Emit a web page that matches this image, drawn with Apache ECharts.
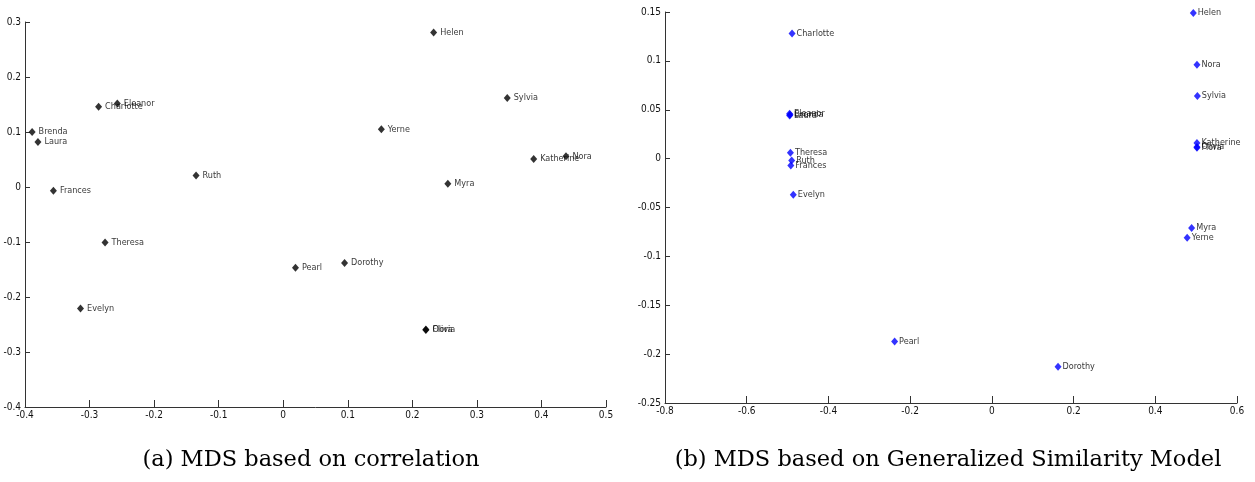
<!DOCTYPE html>
<html>
<head>
<meta charset="utf-8">
<script src="https://cdn.jsdelivr.net/npm/echarts@6/dist/echarts.min.js"></script>
<style>
html,body{margin:0;padding:0;background:#fff;}
#chart{width:1255px;height:482px;}
</style>
</head>
<body>
<div id="chart"></div>
<script>
const names = ['Evelyn','Laura','Theresa','Brenda','Charlotte','Frances','Eleanor','Pearl','Ruth','Yerne','Myra','Katherine','Sylvia','Nora','Helen','Dorothy','Olivia','Flora'];

const corrX = [-0.314,-0.380,-0.276,-0.389,-0.286,-0.356,-0.257,0.019,-0.135,0.152,0.255,0.388,0.347,0.438,0.233,0.095,0.221,0.221];
const corrY = [-0.221,0.082,-0.101,0.100,0.146,-0.007,0.152,-0.147,0.021,0.105,0.006,0.051,0.162,0.056,0.281,-0.138,-0.259,-0.260];

const gsmX = [-0.486,-0.495,-0.493,-0.494,-0.489,-0.492,-0.495,-0.238,-0.490,0.478,0.489,0.502,0.503,0.502,0.493,0.162,0.502,0.502];
const gsmY = [-0.037,0.044,0.006,0.045,0.128,-0.007,0.046,-0.187,-0.002,-0.081,-0.071,0.016,0.064,0.096,0.149,-0.213,0.012,0.011];

const captions = ['(a) MDS based on correlation','(b) MDS based on Generalized Similarity Model'];

const axisFont = '"DejaVu Sans Condensed", "Liberation Sans Narrow", "Arial Narrow", sans-serif';

function pts(xs, ys){ return names.map((n,i)=>({name:n, value:[xs[i], ys[i]]})); }

function xAxisCfg(idx, min, max, interval){
  return {
    type:'value', gridIndex:idx, min:min, max:max, interval:interval,
    axisLine:{show:true, onZero:false, lineStyle:{color:'#333', width:1}},
    axisTick:{show:true, inside:true, length:7, lineStyle:{color:'#333'}},
    axisLabel:{color:'#111', fontFamily:axisFont, fontSize:10, margin:3},
    splitLine:{show:false}
  };
}
function yAxisCfg(idx, min, max, interval){
  return {
    type:'value', gridIndex:idx, min:min, max:max, interval:interval,
    axisLine:{show:true, onZero:false, lineStyle:{color:'#333', width:1}},
    axisTick:{show:true, inside:true, length:5, lineStyle:{color:'#333'}},
    axisLabel:{color:'#111', fontFamily:axisFont, fontSize:10, margin:4},
    splitLine:{show:false}
  };
}

const chart = echarts.init(document.getElementById('chart'), null, {renderer:'canvas'});
chart.setOption({
  animation:false,
  backgroundColor:'#fff',
  grid:[
    {left:25, top:22, width:581, height:385},
    {left:665, top:12, width:572, height:391}
  ],
  xAxis:[ xAxisCfg(0,-0.4,0.5,0.1), xAxisCfg(1,-0.8,0.6,0.2) ],
  yAxis:[ yAxisCfg(0,-0.4,0.3,0.1), yAxisCfg(1,-0.25,0.15,0.05) ],
  series:[
    {
      type:'scatter', xAxisIndex:0, yAxisIndex:0,
      symbol:'diamond', symbolSize:[7,8],
      itemStyle:{color:'#000'},
      label:{show:true, position:'right', distance:3, formatter:'{b}', color:'#000', fontFamily:axisFont, fontSize:9},
      data:pts(corrX, corrY)
    },
    {
      type:'scatter', xAxisIndex:1, yAxisIndex:1,
      symbol:'diamond', symbolSize:[7,8],
      itemStyle:{color:'#0000ff'},
      label:{show:true, position:'right', distance:1, formatter:'{b}', color:'#000', fontFamily:axisFont, fontSize:9},
      data:pts(gsmX, gsmY)
    }
  ],
  graphic:[
    {type:'text', x:311, y:460, style:{text:captions[0], fill:'#000', font:'22.5px "DejaVu Serif", "Liberation Serif", serif', textAlign:'center', textVerticalAlign:'middle'}},
    {type:'text', x:948, y:460, style:{text:captions[1], fill:'#000', font:'22.5px "DejaVu Serif", "Liberation Serif", serif', textAlign:'center', textVerticalAlign:'middle'}}
  ]
});
</script>
</body>
</html>
